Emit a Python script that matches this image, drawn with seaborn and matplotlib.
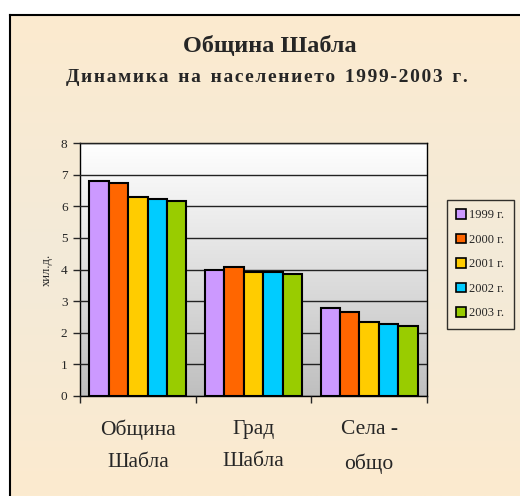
import numpy as np
import pandas as pd
import seaborn as sns
import matplotlib.pyplot as plt

categories = ['Община\nШабла', 'Град\nШабла', 'Села -\nобщо']
years = ['1999 г.', '2000 г.', '2001 г.', '2002 г.', '2003 г.']
v1999 = [6.80, 3.99, 2.79]
v2000 = [6.74, 4.07, 2.66]
v2001 = [6.28, 3.92, 2.34]
v2002 = [6.22, 3.91, 2.29]
v2003 = [6.16, 3.86, 2.22]
colors = ['#CC99FF', '#FF6600', '#FFCC00', '#00CCFF', '#99CC00']

rows = []
for yr, vals in zip(years, [v1999, v2000, v2001, v2002, v2003]):
    for c, v in zip(categories, vals):
        rows.append({'cat': c, 'year': yr, 'value': v})
df = pd.DataFrame(rows)

sns.set_style('white')
plt.rcParams['font.family'] = ['Liberation Serif', 'DejaVu Serif']

fig = plt.figure(figsize=(5.2, 4.96), dpi=100)
fig.patch.set_facecolor('white')

# cream gradient background with border
bg = fig.add_axes([10/520, 0, 510/520, 481/496], zorder=-10)
grad = np.linspace(0, 1, 200)[:, None]
top = np.array([252, 235, 207]) / 255
mid = np.array([243, 234, 217]) / 255
w = np.where(grad < 0.5, 1 - grad * 2, (grad - 0.5) * 2)[..., None]
img = w * top + (1 - w) * mid
bg.imshow(img, aspect='auto', extent=[0, 1, 0, 1], origin='upper')
bg.set_xlim(0, 1)
bg.set_ylim(0, 1)
bg.set_xticks([])
bg.set_yticks([])
for s in ['right', 'bottom']:
    bg.spines[s].set_visible(False)
for s in ['top', 'left']:
    bg.spines[s].set_linewidth(1.5)
    bg.spines[s].set_color('black')

ax = fig.add_axes([80/520, 100/496, 347/520, 253/496])
# plot area gradient white -> grey
g2 = np.linspace(1.0, 0.75, 200)[:, None]
ax.imshow(np.repeat(g2[..., None], 3, axis=2), aspect='auto',
          extent=[-0.5, 2.5, 0, 8], origin='upper', zorder=0)

sns.barplot(data=df, x='cat', y='value', hue='year', palette=colors,
            width=0.84, gap=0, edgecolor='black', linewidth=1.5,
            saturation=1, ax=ax, zorder=3)

ax.set_xlim(-0.5, 2.5)
ax.set_ylim(0, 8)
ax.set_yticks(range(0, 9))
ax.yaxis.grid(True, color='#222222', linewidth=1)
ax.set_axisbelow(False)
for line in ax.get_ygridlines():
    line.set_zorder(1)
ax.set_xticks([-0.5, 0.5, 1.5, 2.5], minor=False)
ax.set_xticklabels([])
ax.set_xticks([0, 1, 2], minor=True)
ax.set_xticklabels(categories, minor=True, fontsize=15.5, linespacing=1.95)
ax.tick_params(axis='x', which='minor', length=0, pad=17)
ax.tick_params(axis='x', which='major', length=5, width=1, direction='out', bottom=True)
ax.tick_params(axis='y', length=5, width=1, direction='out', left=True, labelsize=9.5, pad=4)
for s in ax.spines.values():
    s.set_color('black')
    s.set_linewidth(1)
ax.set_xlabel('')
ax.set_ylabel('хил.д.', fontsize=9, labelpad=6)

leg = ax.legend(loc='upper left', bbox_to_anchor=(367/347, 1 - 57/253),
                borderaxespad=0,
                frameon=True, fontsize=9, handlelength=0.75, handleheight=0.75,
                handletextpad=0.3, labelspacing=1.0, borderpad=0.75,
                fancybox=False, edgecolor='black', facecolor='none')
leg.get_frame().set_linewidth(1)
for h in leg.legend_handles:
    h.set_linewidth(1.2)

fig.text(270/520, 1 - 47/496, 'Община Шабла', ha='center', va='center',
         fontsize=17.5, fontweight='bold')
sub = 'Динамика на населението 1999-2003 г.'
sub = '  '.join('\u200a'.join(word) for word in sub.split(' '))
fig.text(267/520, 1 - 77/496, sub, ha='center',
         va='center', fontsize=14, fontweight='bold')

fig.savefig('out.png', dpi=100)
